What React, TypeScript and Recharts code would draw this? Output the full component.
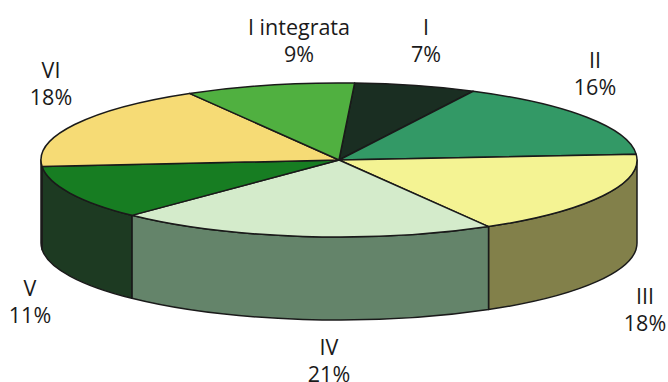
import { PieChart, Pie } from 'recharts';

document.body.style.margin = '0';

const categories = ['I', 'II', 'III', 'IV', 'V', 'VI', 'I integrata'];
// unrounded shares, the labels round them
const shares = [6.6, 16.4, 17.8, 20.6, 11.4, 18, 9.2];
const topColors = ['#1a2e22', '#339966', '#f4f393', '#d4ebcb', '#177d22', '#f6db75', '#50b040'];
const wallColors = ['#0d1711', '#1a4d33', '#82804a', '#64846a', '#1d3a22', '#7b6e3a', '#285820'];

// label centres, picked by eye from the reference
const labelX = [426, 595, 645, 329, 30, 51, 299];
const labelY = [27, 60, 296, 347, 288, 70, 27];

const RX = 298;
const RY = 77;
const DEPTH = 83;
const FONT = '"Open Sans", sans-serif';

const topData = categories.map((name, i) => ({ name, value: shares[i], fill: topColors[i] }));
const wallData = categories.map((name, i) => ({ name, value: shares[i], fill: wallColors[i] }));

const onEllipse = (cx: number, cy: number, deg: number) => {
  const a = (deg * Math.PI) / 180;
  return [cx + RX * Math.cos(a), cy - RY * Math.sin(a)];
};

// flatten the sector the library hands us into an ellipse
function TopSlice(props: any) {
  const { cx, cy, startAngle, endAngle, fill } = props;
  const [x1, y1] = onEllipse(cx, cy, startAngle);
  const [x2, y2] = onEllipse(cx, cy, endAngle);
  const large = Math.abs(startAngle - endAngle) > 180 ? 1 : 0;
  return (
    <path
      d={`M${cx},${cy} L${x1},${y1} A${RX},${RY} 0 ${large} 1 ${x2},${y2} Z`}
      fill={fill}
      stroke="#1a1a1a"
      strokeWidth={1.5}
      strokeLinejoin="round"
    />
  );
}

// only the front half of the rim is visible
function WallSlice(props: any) {
  const { cx, cy, startAngle, endAngle, fill } = props;
  const from = Math.min(startAngle, 0);
  const to = Math.max(endAngle, -180);
  if (from <= to) return <g />;
  const [x1, y1] = onEllipse(cx, cy, from);
  const [x2, y2] = onEllipse(cx, cy, to);
  return (
    <path
      d={`M${x1},${y1} A${RX},${RY} 0 0 1 ${x2},${y2} L${x2},${y2 + DEPTH} A${RX},${RY} 0 0 0 ${x1},${y1 + DEPTH} Z`}
      fill={fill}
      stroke="#1a1a1a"
      strokeWidth={1.5}
      strokeLinejoin="round"
    />
  );
}

function SliceLabel({ index }: any) {
  return (
    <text x={labelX[index]} y={labelY[index] + 8} textAnchor="middle" fontFamily={FONT} fontSize={21.5} fill="#1a1a1a">
      <tspan x={labelX[index]}>{categories[index]}</tspan>
      <tspan x={labelX[index]} dy={27}>{Math.round(shares[index])}%</tspan>
    </text>
  );
}

export default function App() {
  return (
    <div style={{ width: 668, height: 382, overflow: 'hidden' }}>
      <PieChart width={668} height={382} margin={{ top: 0, right: 0, bottom: 0, left: 0 }}>
        <Pie
          data={wallData}
          dataKey="value"
          cx={339}
          cy={160}
          innerRadius={0}
          outerRadius={RX}
          startAngle={87}
          endAngle={-273}
          shape={WallSlice}
          stroke="none"
          isAnimationActive={false}
        />
        <Pie
          data={topData}
          dataKey="value"
          cx={339}
          cy={160}
          innerRadius={0}
          outerRadius={RX}
          startAngle={87}
          endAngle={-273}
          shape={TopSlice}
          label={SliceLabel}
          labelLine={false}
          isAnimationActive={false}
        />
      </PieChart>
    </div>
  );
}
